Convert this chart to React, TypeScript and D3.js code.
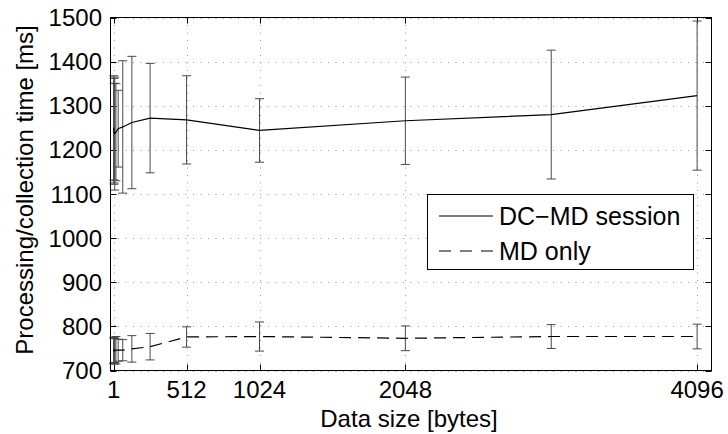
import React from "react";
import * as d3 from "d3";

const xValues = [1, 2, 4, 8, 16, 32, 64, 128, 256, 512, 1024, 2048, 3072, 4096];
const dcmdMean = [1250, 1242, 1238, 1237, 1240, 1248, 1252, 1262, 1272, 1268, 1244, 1266, 1280, 1323];
const dcmdErr = [118, 120, 113, 128, 110, 87, 150, 150, 124, 100, 72, 99, 146, 169];
const mdMean = [745, 746, 744, 745, 746, 746, 746, 749, 754, 776, 777, 773, 777, 777];
const mdErr = [30, 28, 29, 27, 31, 25, 24, 30, 30, 23, 33, 28, 27, 28];
const xTicks = [1, 512, 1024, 2048, 4096];
const yTicks = [700, 800, 900, 1000, 1100, 1200, 1300, 1400, 1500];
const seriesNames = ["DC\u2212MD session", "MD only"];

const W = 728;
const H = 434;
const L = 110.5, R = 711.5, T = 17.5, B = 370.5;
const FONT = "'Liberation Sans', Arial, Helvetica, sans-serif";

export default function App() {
  const x = d3.scaleLinear().domain([-22, 4197]).range([L, R]);
  const y = d3.scaleLinear().domain([700, 1500]).range([B, T]);
  const line = d3
    .line<number>()
    .x((_, i) => x(xValues[i]))
    .y((d) => y(d));

  const errBars = (means: number[], errs: number[], key: string) =>
    means.map((m, i) => {
      const cx = x(xValues[i]);
      const y1 = y(m + errs[i]);
      const y2 = y(m - errs[i]);
      return (
        <g key={key + i} stroke="#4a4a4a" strokeWidth={1}>
          <line x1={cx} x2={cx} y1={y1} y2={y2} />
          <line x1={cx - 4.5} x2={cx + 4.5} y1={y1} y2={y1} />
          <line x1={cx - 4.5} x2={cx + 4.5} y1={y2} y2={y2} />
        </g>
      );
    });

  const tickLen = 6;

  return (
    <svg
      width={W}
      height={H}
      style={{ position: "absolute", left: 0, top: 0, background: "#fff" }}
      fontFamily={FONT}
    >
      <rect x={0} y={0} width={W} height={H} fill="#fff" />
      {/* grid */}
      <g stroke="#999" strokeWidth={1} strokeDasharray="1 6.5">
        {xTicks.map((t) => (
          <line key={"gx" + t} x1={Math.round(x(t)) + 0.5} x2={Math.round(x(t)) + 0.5} y1={T} y2={B} />
        ))}
        {yTicks.map((t) => (
          <line key={"gy" + t} x1={L} x2={R} y1={Math.round(y(t)) + 0.5} y2={Math.round(y(t)) + 0.5} />
        ))}
      </g>
      {/* ticks */}
      <g stroke="#000" strokeWidth={1}>
        {xTicks.map((t) => {
          const px = Math.round(x(t)) + 0.5;
          return (
            <g key={"tx" + t}>
              <line x1={px} x2={px} y1={B} y2={B - tickLen} />
              <line x1={px} x2={px} y1={T} y2={T + tickLen} />
            </g>
          );
        })}
        {yTicks.map((t) => {
          const py = Math.round(y(t)) + 0.5;
          return (
            <g key={"ty" + t}>
              <line x1={L} x2={L + tickLen} y1={py} y2={py} />
              <line x1={R} x2={R - tickLen} y1={py} y2={py} />
            </g>
          );
        })}
      </g>
      {/* error bars */}
      {errBars(dcmdMean, dcmdErr, "dc")}
      {errBars(mdMean, mdErr, "md")}
      {/* lines */}
      <path d={line(dcmdMean) || ""} fill="none" stroke="#000" strokeWidth={1.2} />
      <path d={line(mdMean) || ""} fill="none" stroke="#000" strokeWidth={1.2} strokeDasharray="12 7" />
      {/* axes box */}
      <rect x={L} y={T} width={R - L} height={B - T} fill="none" stroke="#000" strokeWidth={1} />
      {/* tick labels */}
      <g fontSize={24} fill="#000">
        {xTicks.map((t) => (
          <text key={"lx" + t} x={x(t)} y={398} textAnchor="middle">
            {t}
          </text>
        ))}
        {yTicks.map((t) => (
          <text key={"ly" + t} x={102} y={y(t) + 8.5} textAnchor="end">
            {t}
          </text>
        ))}
      </g>
      {/* axis labels */}
      <text x={(L + R) / 2 - 2} y={427} fontSize={24} textAnchor="middle" fill="#000">
        Data size [bytes]
      </text>
      <text
        transform={`translate(33, ${(T + B) / 2 - 4}) rotate(-90)`}
        fontSize={24}
        textAnchor="middle"
        fill="#000"
      >
        Processing/collection time [ms]
      </text>
      {/* legend */}
      <g>
        <rect x={427.5} y={194.5} width={266} height={75} fill="#fff" stroke="#000" strokeWidth={1} />
        <line x1={439} x2={493} y1={216} y2={216} stroke="#000" strokeWidth={1.2} />
        <line x1={439} x2={493} y1={251} y2={251} stroke="#000" strokeWidth={1.2} strokeDasharray="12 9" />
        <text x={499} y={225} fontSize={25} fill="#000">
          {seriesNames[0]}
        </text>
        <text x={499} y={260} fontSize={25} fill="#000">
          {seriesNames[1]}
        </text>
      </g>
    </svg>
  );
}
